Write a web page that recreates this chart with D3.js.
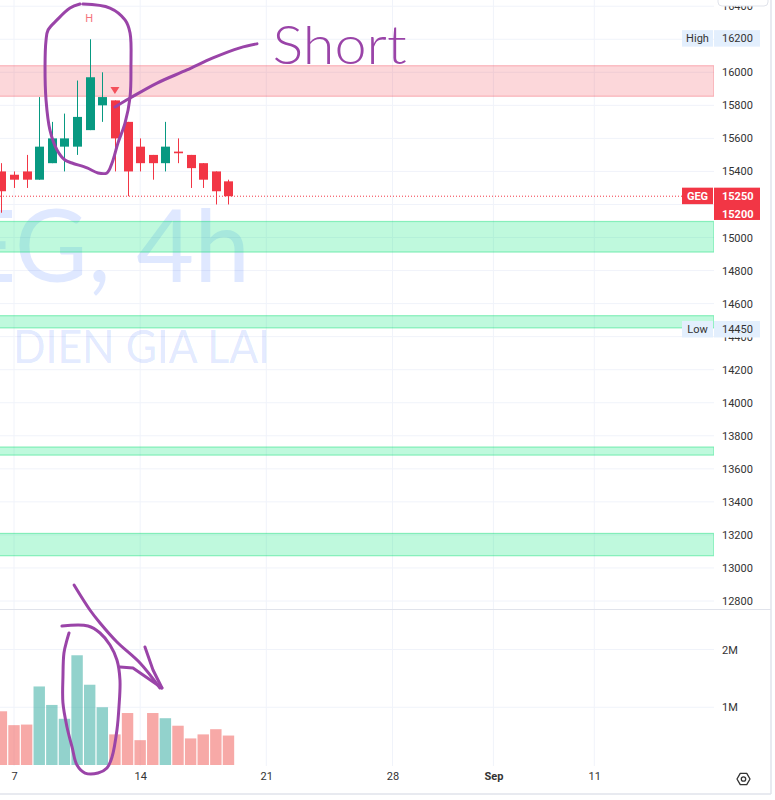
<!DOCTYPE html>
<html><head><meta charset="utf-8">
<script src="https://cdn.jsdelivr.net/npm/d3@7"></script>
<style>html,body{margin:0;padding:0;background:#fff;overflow:hidden}svg{display:block}</style>
</head><body><svg id="c" width="775" height="800"></svg>
<script>
// ---------- DATA ----------
const candleIdx = d3.range(-1, 18);           // 4h bars, index 0 = Aug 7 morning
const openP  = [15400,15380,15400,15350,15450,15550,15550,15650,15800,15830,15700,15550,15500,15450,15520,15500,15450,15400,15340];
const closeP = [15280,15350,15350,15550,15600,15600,15730,15970,15850,15600,15400,15450,15450,15550,15510,15420,15350,15280,15250];
const highP  = [15450,15400,15500,15850,15700,15750,15950,16200,16000,15830,15700,15600,15500,15700,15600,15500,15450,15400,15350];
const lowP   = [15150,15300,15300,15350,15450,15400,15500,15650,15700,15400,15250,15400,15350,15400,15450,15300,15300,15200,15200];
const volume = [0.93,0.69,0.70,1.36,1.04,0.80,1.90,1.39,1.00,0.53,0.90,0.43,0.90,0.81,0.68,0.46,0.53,0.62,0.51].map(v=>v*1e6);

const priceTicks = d3.range(12800, 16401, 200);
const volTicks = [1e6, 2e6];
const volTickLabels = ["1M", "2M"];
const timeTickIdx = [0, 10, 20, 30, 38, 46];
const timeTickLabels = ["7", "14", "21", "28", "Sep", "11"];

// support / resistance zones (price)
const zoneTop    = [16040, 15097, 14527, 13732, 13209];
const zoneBottom = [15855, 14912, 14453, 13683, 13074];
const zoneKind   = ["supply","demand","demand","demand","demand"];

const lastPrice = 15250, secondPrice = 15200, highPrice = 16200, lowPrice = 14450;
const symbol = "GEG", watermark1 = "GEG, 4h", watermark2 = "DIEN GIA LAI";
const highMarkIdx = 6, sellMarkIdx = 8;

// hand-drawn annotations in data space: [candle index, price] / [candle index, volume in M]
const circlePrice = [[5.47,16413],[7.61,16389],[8.80,16317],[9.20,16238],[9.27,16032],[9.20,15850],[8.80,15693],[8.24,15572],[7.77,15451],[7.37,15391],[6.66,15391],[5.79,15421],[4.60,15451],[4.04,15469],[3.41,15530],[2.85,15650],[2.54,15832],[2.46,16032],[2.54,16195],[2.70,16256],[3.41,16317],[4.44,16389],[5.23,16413]];
const shortLine = [[8.01,15790],[9.20,15844],[11.34,15935],[13.71,16014],[15.77,16087],[17.91,16148],[19.26,16172]];
const shortLabel = {idx: 20.5, price: 16050, text: "Short"};
const circleVol = [[3.80,2.407],[5.87,2.407],[6.82,2.286],[7.61,2.078],[8.16,1.818],[8.40,1.472],[8.32,1.004],[8.16,0.606],[7.77,0.139],[7.37,-0.052],[6.66,-0.139],[5.63,-0.139],[4.99,0],[4.60,0.312],[4.20,0.658],[3.88,1.074],[3.88,1.524],[3.96,1.939],[4.20,2.165],[4.36,2.286]];
const arrowShaft = [[4.76,3.117],[6.02,2.684],[6.82,2.459],[8.16,2.130],[9.99,1.766],[11.57,1.333]];
const arrowHead1 = [[10.38,2.043],[11.02,1.645],[11.73,1.333]];
const arrowHead2 = [[8.40,1.697],[9.43,1.680],[11.73,1.333]];

// ---------- CHART ----------
const W = 775, H = 800, plotR = 714, paneSep = 609, volBottom = 766, axisBottom = 794, rightEdge = 771;
const green = "#089981", red = "#f23645", purple = "#9a44a8", gridC = "#f0f3fa", borderC = "#e0e3eb";
const svg = d3.select("#c");
const x = d3.scaleLinear().domain([0, 46]).range([14, 594.3]);
const y = d3.scaleLinear().domain([12800, 16000]).range([601, 72.3]);
const yv = d3.scaleLinear().domain([0, 2e6]).range([765, 649.5]);
const font = "Roboto, 'Liberation Sans', sans-serif";

svg.append("rect").attr("width", W).attr("height", H).attr("fill", "#fff");

const defs = svg.append("defs");
defs.append("clipPath").attr("id","cp").append("rect").attr("x",0).attr("y",0).attr("width",plotR).attr("height",paneSep);
defs.append("clipPath").attr("id","cv").append("rect").attr("x",0).attr("y",paneSep).attr("width",plotR).attr("height",volBottom-paneSep);

const gp = svg.append("g").attr("clip-path","url(#cp)");
const gv = svg.append("g").attr("clip-path","url(#cv)");

// grid
gp.selectAll("line.hg").data(priceTicks).join("line").attr("class","hg")
  .attr("x1",0).attr("x2",plotR).attr("y1",d=>y(d)).attr("y2",d=>y(d)).attr("stroke",gridC);
gv.selectAll("line.hg").data(volTicks).join("line").attr("class","hg")
  .attr("x1",0).attr("x2",plotR).attr("y1",d=>yv(d)).attr("y2",d=>yv(d)).attr("stroke",gridC);
[gp, gv].forEach(g => g.selectAll("line.vg").data(timeTickIdx).join("line").attr("class","vg")
  .attr("x1",d=>x(d)).attr("x2",d=>x(d)).attr("y1",0).attr("y2",volBottom).attr("stroke",gridC));

// watermark
gp.append("text").attr("x",250).attr("y",282).attr("text-anchor","end")
  .attr("font-family","Lato, 'Open Sans', sans-serif").attr("font-size",100)
  .attr("fill","rgba(41,98,255,0.15)").text(watermark1);
gp.append("text").attr("x",13).attr("y",363).attr("textLength",257).attr("lengthAdjust","spacingAndGlyphs")
  .attr("font-family","Lato, 'Open Sans', sans-serif").attr("font-size",46)
  .attr("fill","rgba(41,98,255,0.15)").text(watermark2);

// zones
const zones = zoneTop.map((t,i)=>({t, b: zoneBottom[i], k: zoneKind[i]}));
gp.selectAll("rect.zone").data(zones).join("rect").attr("class","zone")
  .attr("x",-2).attr("width",plotR+2).attr("y",d=>y(d.t)).attr("height",d=>y(d.b)-y(d.t))
  .attr("fill",d=>d.k==="supply"?"rgba(242,54,69,0.2)":"rgba(0,230,118,0.25)")
  .attr("stroke",d=>d.k==="supply"?"rgba(242,54,69,0.3)":"rgba(0,220,110,0.4)").attr("stroke-width",1.2);

// last price line
gp.append("line").attr("x1",0).attr("x2",682).attr("y1",y(lastPrice)).attr("y2",y(lastPrice))
  .attr("stroke",red).attr("stroke-dasharray","1,2").attr("stroke-width",1);

// candles
const candles = candleIdx.map((idx,i)=>({idx, o:openP[i], c:closeP[i], h:highP[i], l:lowP[i], v:volume[i]}));
const bw = 9;
const cg = gp.selectAll("g.c").data(candles).join("g").attr("class","c");
cg.append("line").attr("x1",d=>Math.round(x(d.idx))+0.5).attr("x2",d=>Math.round(x(d.idx))+0.5)
  .attr("y1",d=>y(d.h)).attr("y2",d=>y(d.l)).attr("stroke",d=>d.c>=d.o?green:red);
cg.append("rect").attr("x",d=>Math.round(x(d.idx))+0.5-bw/2).attr("width",bw)
  .attr("y",d=>y(Math.max(d.o,d.c))).attr("height",d=>Math.max(1,y(Math.min(d.o,d.c))-y(Math.max(d.o,d.c))))
  .attr("fill",d=>d.c>=d.o?green:red);

// volume
const vw = x(1)-x(0)-1.2;
gv.selectAll("rect.v").data(candles).join("rect").attr("class","v")
  .attr("x",d=>x(d.idx)-vw/2).attr("width",vw).attr("y",d=>yv(d.v)).attr("height",d=>yv(0)-yv(d.v))
  .attr("fill",d=>d.c>=d.o?"rgba(38,166,154,0.5)":"rgba(239,83,80,0.5)");

// H marker & sell triangle
svg.append("text").attr("x",x(highMarkIdx)-0.5).attr("y",21.5).attr("text-anchor","middle")
  .attr("font-family",font).attr("font-size",11).attr("fill","#f5737d").text("H");
const tx = x(sellMarkIdx), ty = 87;
svg.append("path").attr("d",`M${tx-4.5},${ty}L${tx+4.5},${ty}L${tx},${ty+7}Z`).attr("fill","#f4505a");

// pane borders
svg.append("line").attr("x1",0).attr("x2",rightEdge).attr("y1",paneSep+0.5).attr("y2",paneSep+0.5).attr("stroke",borderC);
svg.append("line").attr("x1",0).attr("x2",rightEdge).attr("y1",axisBottom).attr("y2",axisBottom).attr("stroke",borderC).attr("stroke-width",1.5);
svg.append("line").attr("x1",rightEdge).attr("x2",rightEdge).attr("y1",0).attr("y2",axisBottom).attr("stroke",borderC).attr("stroke-width",1.5);

// price axis
const pa = svg.append("g").attr("transform",`translate(${plotR},0)`)
  .call(d3.axisRight(y).tickValues(priceTicks).tickSize(0).tickPadding(8).tickFormat(d3.format("d")));
pa.select(".domain").remove();
pa.selectAll("text").attr("font-family",font).attr("font-size",11).attr("fill","#333");
// volume axis
const va = svg.append("g").attr("transform",`translate(${plotR},0)`)
  .call(d3.axisRight(yv).tickValues(volTicks).tickSize(0).tickPadding(8).tickFormat((d,i)=>volTickLabels[i]));
va.select(".domain").remove();
va.selectAll("text").attr("font-family",font).attr("font-size",11).attr("fill","#333");
// time axis
const ta = svg.append("g").attr("transform",`translate(0,772)`)
  .call(d3.axisBottom(x).tickValues(timeTickIdx).tickSize(0).tickPadding(0).tickFormat((d,i)=>timeTickLabels[i]));
ta.select(".domain").remove();
ta.selectAll("text").attr("font-family",font).attr("font-size",11).attr("fill","#333").attr("dy","0.71em")
  .attr("font-weight",(d,i)=>timeTickLabels[i]==="Sep"?"bold":"normal");

// top cut-off button (covers most of the 16400 label)
svg.append("rect").attr("x",718).attr("y",-12).attr("width",50).attr("height",18).attr("rx",4)
  .attr("fill","#fff").attr("stroke",borderC);

// axis labels (High / Low / symbol)
function tag(yc, leftText, rightText, bg, fg, bold, h){
  const hh = h || 16.5;
  if(leftText){
    svg.append("rect").attr("x",682).attr("y",yc-8.25).attr("width",31).attr("height",16.5).attr("fill",bg);
    svg.append("text").attr("x",697.5).attr("y",yc).attr("dy","0.35em").attr("text-anchor","middle")
      .attr("font-family",font).attr("font-size",11).attr("font-weight",bold?"bold":"normal").attr("fill",fg).text(leftText);
  }
  svg.append("rect").attr("x",714).attr("y",yc-8.25).attr("width",46).attr("height",hh).attr("fill",bg);
  svg.append("text").attr("x",722).attr("y",yc).attr("dy","0.35em")
    .attr("font-family",font).attr("font-size",11).attr("font-weight",bold?"bold":"normal").attr("fill",fg).text(rightText);
}
tag(38.4, "High", String(highPrice), "#e3effd", "#333", false);
tag(329.2, "Low", String(lowPrice), "#e3effd", "#333", false);
tag(y(lastPrice)-0.3, symbol, String(lastPrice), red, "#fff", true, 32.3);
svg.append("text").attr("x",722).attr("y",214).attr("dy","0.35em").attr("font-family",font).attr("font-size",11)
  .attr("font-weight","bold").attr("fill","#fff").text(String(secondPrice));

// gear icon
const gx = 743.5, gy = 779;
const hex = d3.range(6).map(k=>{const a=Math.PI/3*k; return [gx+6.5*Math.cos(a), gy+6.5*Math.sin(a)];});
svg.append("path").attr("d","M"+hex.join("L")+"Z").attr("fill","none").attr("stroke","#333").attr("stroke-width",1.3).attr("stroke-linejoin","round");
svg.append("circle").attr("cx",gx).attr("cy",gy).attr("r",2.2).attr("fill","none").attr("stroke","#333").attr("stroke-width",1.3);

// hand-drawn annotations
const lp = d3.line().x(d=>x(d[0])).y(d=>y(d[1])).curve(d3.curveCatmullRom);
const lv = d3.line().x(d=>x(d[0])).y(d=>yv(d[1]*1e6)).curve(d3.curveCatmullRom);
const lvStraight = d3.line().x(d=>x(d[0])).y(d=>yv(d[1]*1e6));
const pen = sel => sel.attr("fill","none").attr("stroke",purple).attr("stroke-width",3).attr("stroke-linecap","round").attr("stroke-linejoin","round");
svg.append("path").attr("d",lp(circlePrice)).call(pen);
svg.append("path").attr("d",lp(shortLine)).call(pen);
svg.append("text").attr("x",x(shortLabel.idx)).attr("y",y(shortLabel.price))
  .attr("font-family","Lato, 'Open Sans', sans-serif").attr("font-size",54).attr("font-weight",300)
  .attr("fill",purple).attr("textLength",134).attr("lengthAdjust","spacingAndGlyphs")
  .text(shortLabel.text);
svg.append("path").attr("d",lv(circleVol)).call(pen);
svg.append("path").attr("d",lv(arrowShaft)).call(pen);
svg.append("path").attr("d",lvStraight(arrowHead1)).call(pen);
svg.append("path").attr("d",lvStraight(arrowHead2)).call(pen);
</script></body></html>
